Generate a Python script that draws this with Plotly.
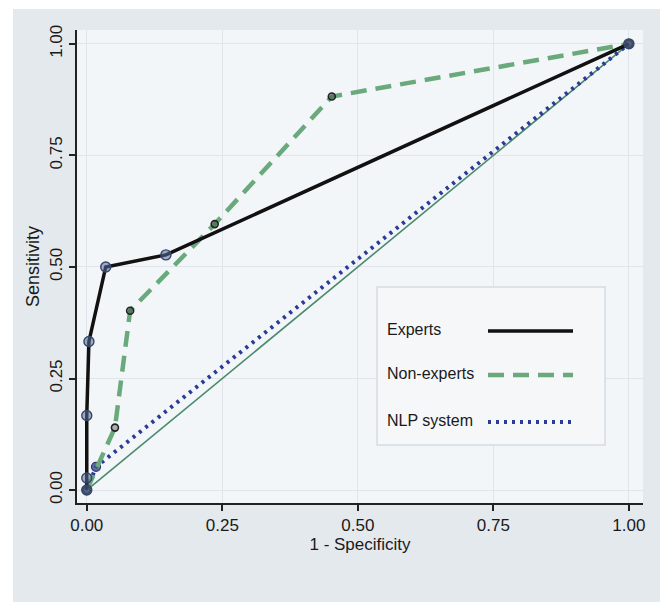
import plotly.graph_objects as go

# ---- data ----
experts_fpr = [0.0, 0.0, 0.0, 0.004, 0.035, 0.146, 1.0]
experts_sens = [0.0, 0.027, 0.167, 0.333, 0.500, 0.527, 1.0]

nonexperts_fpr = [0.0, 0.052, 0.080, 0.236, 0.452, 1.0]
nonexperts_sens = [0.0, 0.140, 0.402, 0.596, 0.882, 1.0]

nlp_fpr = [0.0, 0.017, 1.0]
nlp_sens = [0.0, 0.052, 1.0]

ref_line = [0.0, 1.0]

tick_vals = [0.0, 0.25, 0.5, 0.75, 1.0]
tick_text = ["0.00", "0.25", "0.50", "0.75", "1.00"]

legend_names = ["Experts", "Non-experts", "NLP system"]

FONT = "Liberation Sans Narrow, Arial Narrow, Liberation Sans, Arial, sans-serif"
BLACK = "#111111"
GREEN = "#69a97c"
NAVY = "#2c3a98"
REFGREEN = "#4a8a6c"

fig = go.Figure()

# reference diagonal
fig.add_trace(go.Scatter(x=ref_line, y=ref_line, mode="lines",
                         line=dict(color=REFGREEN, width=1.6),
                         showlegend=False, hoverinfo="skip"))

# NLP system
fig.add_trace(go.Scatter(x=nlp_fpr, y=nlp_sens, mode="lines+markers",
                         name=legend_names[2],
                         line=dict(color=NAVY, width=4, dash="3px,5px"),
                         marker=dict(size=9, color="rgba(40,60,140,0.75)",
                                     line=dict(color="#2a3560", width=1.2)),
                         showlegend=False))

# Non-experts
fig.add_trace(go.Scatter(x=nonexperts_fpr, y=nonexperts_sens, mode="lines+markers",
                         name=legend_names[1],
                         line=dict(color=GREEN, width=4.5, dash="16px,9px"),
                         marker=dict(size=7, color="rgba(40,40,40,0.35)",
                                     line=dict(color="#222222", width=1.6)),
                         showlegend=False))

# Experts
fig.add_trace(go.Scatter(x=experts_fpr, y=experts_sens, mode="lines+markers",
                         name=legend_names[0],
                         line=dict(color=BLACK, width=3.5),
                         marker=dict(size=10, color="rgba(90,110,150,0.55)",
                                     line=dict(color="#34466e", width=1.4)),
                         showlegend=False))

# ---- layout geometry (pixels) ----
W, H = 660, 602
L, R, T, B = 77, 17, 30, 99
pw, ph = W - L - R, H - T - B


def px_x(px):
    return (px - L) / pw


def px_y(py):
    return (H - B - py) / ph


shapes = []
# white border strips (top and left) outside the gray panel
shapes.append(dict(type="rect", xref="paper", yref="paper",
                   x0=px_x(0), x1=px_x(W), y0=px_y(9), y1=px_y(0),
                   fillcolor="white", line=dict(width=0), layer="below"))
shapes.append(dict(type="rect", xref="paper", yref="paper",
                   x0=px_x(0), x1=px_x(13), y0=px_y(H), y1=px_y(0),
                   fillcolor="white", line=dict(width=0), layer="below"))

# manual legend box
shapes.append(dict(type="rect", xref="paper", yref="paper",
                   x0=px_x(377), x1=px_x(605), y0=px_y(445), y1=px_y(287),
                   fillcolor="#f5f7f9", line=dict(color="#d5dbe0", width=1.5)))
leg_y = [331, 375, 422]
leg_styles = [dict(color=BLACK, width=3.5),
              dict(color=GREEN, width=4.5, dash="16px,9px"),
              dict(color=NAVY, width=4, dash="3px,5px")]
annotations = []
for name, yy, st in zip(legend_names, leg_y, leg_styles):
    shapes.append(dict(type="line", xref="paper", yref="paper",
                       x0=px_x(488), x1=px_x(573), y0=px_y(yy), y1=px_y(yy),
                       line=st))
    annotations.append(dict(text=name, xref="paper", yref="paper",
                            x=px_x(385), y=px_y(yy - 2), xanchor="left",
                            yanchor="middle", showarrow=False,
                            font=dict(family=FONT, size=16, color="#1a1a1a")))

axis_common = dict(
    tickmode="array", tickvals=tick_vals, ticktext=tick_text,
    showgrid=True, gridcolor="#dfe5ea", gridwidth=1,
    zeroline=False, showline=True, linecolor="#222222", linewidth=1.5,
    ticks="outside", ticklen=6, tickwidth=1.5, tickcolor="#222222",
    tickfont=dict(family=FONT, size=17, color="#1a1a1a"),
)

fig.update_layout(
    width=W, height=H,
    margin=dict(l=L, r=R, t=T, b=B, autoexpand=False),
    paper_bgcolor="#e4e9ed",
    plot_bgcolor="#f3f6f8",
    shapes=shapes,
    annotations=annotations,
    showlegend=False,
    xaxis=dict(range=[-0.018, 1.026],
               title=dict(text="1 - Specificity", standoff=4,
                          font=dict(family=FONT, size=17, color="#1a1a1a")),
               automargin=False, **axis_common),
    yaxis=dict(range=[-0.029, 1.031], tickangle=-90,
               title=dict(text="Sensitivity", standoff=3,
                          font=dict(family=FONT, size=18, color="#1a1a1a")),
               automargin=False, **axis_common),
)

fig.write_html(
    "out.html",
    config={"displayModeBar": False},
    post_script="document.body.style.margin='0';document.body.style.overflow='hidden';",
)
